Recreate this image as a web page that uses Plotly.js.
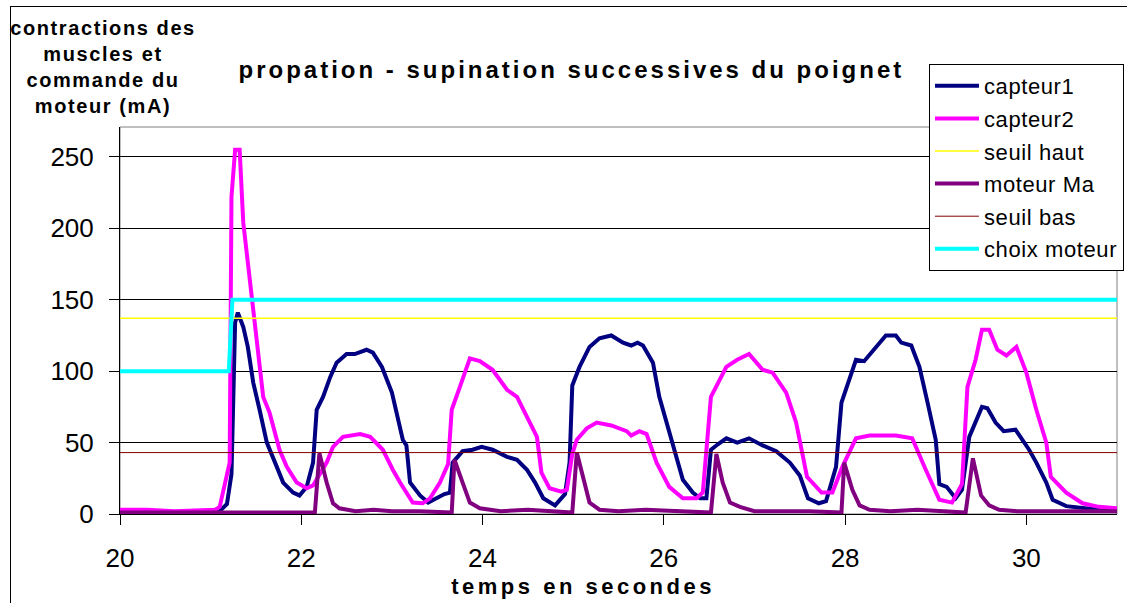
<!DOCTYPE html>
<html>
<head>
<meta charset="utf-8">
<script src="https://cdn.plot.ly/plotly-3.0.1.min.js"></script>
<style>
  html, body { margin: 0; padding: 0; background: #fff; overflow: hidden; }
  #chart { position: absolute; left: 0; top: 0; width: 1127px; height: 603px; }
  #frame { position: absolute; left: 10px; top: 6px; width: 1400px; height: 900px; border: 1px solid #000; pointer-events: none; }
  .gtitle { letter-spacing: 3px; }
  .legendtext { letter-spacing: 0.6px; }
  .annotation[data-index="0"] .annotation-text { letter-spacing: 1.6px; }
  .annotation[data-index="1"] .annotation-text { letter-spacing: 3.5px; }
</style>
</head>
<body>
<div id="chart"></div>
<div id="frame"></div>
<script>
// ---- data ----
const chartTitle = "propation - supination successives du poignet";
const yTitle = "contractions des<br>muscles et<br>commande du<br>moteur (mA)";
const xTitle = "temps en secondes";
const seriesNames = ["capteur1", "capteur2", "seuil haut", "moteur Ma", "seuil bas", "choix moteur"];

const tCapteur1 = [20.0, 20.3, 20.6, 20.9, 21.1, 21.18, 21.23, 21.27, 21.30, 21.36, 21.41, 21.47, 21.54, 21.62, 21.73, 21.80, 21.91, 21.98, 22.06, 22.13,
  22.17, 22.24, 22.32, 22.39, 22.50, 22.59, 22.72, 22.79, 22.89, 23.00, 23.12, 23.16, 23.20, 23.31, 23.40, 23.51, 23.58, 23.64, 23.67, 23.78,
  23.89, 23.99, 24.11, 24.27, 24.38, 24.49, 24.58, 24.67, 24.80, 24.91, 24.96, 24.99, 25.07, 25.18, 25.29, 25.42, 25.55, 25.64, 25.71, 25.77,
  25.88, 25.95, 26.06, 26.14, 26.21, 26.32, 26.40, 26.47, 26.52, 26.60, 26.69, 26.81, 26.94, 27.09, 27.24, 27.39, 27.50, 27.59, 27.71, 27.79,
  27.90, 27.96, 28.05, 28.12, 28.21, 28.38, 28.45, 28.56, 28.62, 28.73, 28.82, 28.91, 29.00, 29.04, 29.12, 29.22, 29.29, 29.37, 29.51, 29.57,
  29.66, 29.75, 29.88, 30.03, 30.11, 30.22, 30.29, 30.44, 30.62, 30.80, 31.0];
const vCapteur1 = [1, 1, 1, 1, 2, 7, 28, 134, 141, 131, 117, 92, 73, 50, 33, 22, 15, 13, 19, 36,
  73, 82, 96, 106, 112, 112, 115, 113, 103, 85, 52, 48, 22, 13, 8, 12, 14, 15, 36, 44,
  45, 47, 45, 40, 38, 31, 22, 11, 6, 14, 36, 90, 103, 117, 123, 125, 120, 118, 120, 118,
  106, 82, 57, 38, 24, 15, 11, 11, 45, 49, 53, 50, 53, 48, 44, 36, 27, 11, 7.5, 9,
  33, 78, 96, 108, 107, 120, 125, 125, 120, 118, 103, 78, 52, 21, 19, 11, 17, 54, 75, 74,
  64, 58, 59, 45, 36, 22, 10, 5.5, 4, 3, 2];

const tCapteur2 = [20.0, 20.3, 20.6, 20.9, 21.05, 21.10, 21.16, 21.21, 21.23, 21.27, 21.32, 21.36, 21.47, 21.58, 21.65, 21.76, 21.84, 21.95, 22.06, 22.13,
  22.28, 22.35, 22.46, 22.65, 22.76, 22.90, 23.01, 23.09, 23.23, 23.34, 23.42, 23.53, 23.62, 23.66, 23.75, 23.86, 23.97, 24.11, 24.27, 24.38,
  24.49, 24.60, 24.65, 24.74, 24.87, 24.93, 24.99, 25.04, 25.15, 25.26, 25.42, 25.59, 25.64, 25.73, 25.81, 25.92, 26.06, 26.21, 26.36, 26.43,
  26.52, 26.69, 26.81, 26.94, 27.09, 27.20, 27.35, 27.46, 27.58, 27.74, 27.86, 27.97, 28.12, 28.27, 28.56, 28.74, 28.89, 29.04, 29.18, 29.29,
  29.35, 29.44, 29.51, 29.59, 29.68, 29.78, 29.89, 30.00, 30.11, 30.22, 30.27, 30.44, 30.62, 30.80, 31.0];
const vCapteur2 = [3, 3, 2, 3, 3, 5, 22, 36, 222, 255, 255, 204, 143, 82, 71, 45, 33, 22, 18, 20,
  36, 47, 54, 56, 54, 45, 31, 22, 8, 7.5, 11, 22, 35, 73, 89, 109, 107, 101, 87, 82,
  68, 54, 29, 18, 15.7, 17, 42, 52, 60, 64, 62, 58, 55, 58, 56, 36, 19, 11, 11, 15,
  82, 103, 108, 112, 101, 99, 85, 64, 26, 15, 15, 33, 53, 55, 55, 53, 31, 10, 8, 21,
  89, 108, 129, 129, 115, 111, 117, 99, 73, 50, 26, 15, 7.5, 5, 4];

const tMoteur = [20.0, 22.15, 22.20, 22.28, 22.35, 22.42, 22.6, 22.8, 23.0, 23.3, 23.66, 23.69, 23.78, 23.86, 23.97, 24.2, 24.5, 24.8, 24.99, 25.04,
  25.11, 25.18, 25.29, 25.5, 25.8, 26.1, 26.52, 26.58, 26.65, 26.73, 26.84, 27.0, 27.3, 27.6, 27.96, 27.99, 28.08, 28.16, 28.27, 28.5,
  28.8, 29.1, 29.33, 29.41, 29.50, 29.59, 29.70, 29.9, 30.2, 30.5, 31.0];
const vMoteur = [1, 1, 42.5, 22, 7.5, 4, 2, 3, 2, 2, 1, 38, 22, 8, 4, 2, 3, 2, 1, 43,
  24, 8, 3, 2, 3, 2, 1, 42, 22, 8, 5, 2, 2, 2, 1, 36, 17, 6, 3, 2,
  3, 2, 1, 39, 13, 6, 3, 2, 2, 2, 2];

const tSeuil = [20, 31];
const vSeuilHaut = [137, 137];
const vSeuilBas = [43, 43];

const tChoix = [20, 21.2, 21.24, 31];
const vChoix = [100, 100, 150, 150];

const xTicks = [20, 22, 24, 26, 28, 30];
const yTicks = [0, 50, 100, 150, 200, 250];

// ---- styles ----
const FONT = "Liberation Sans, Arial, sans-serif";
const colors = ["#000080", "#FF00FF", "#FFFF00", "#800080", "#800000", "#00FFFF"];
const widths = [4, 4, 1.5, 4, 1, 4];
const xs = [tCapteur1, tCapteur2, tSeuil, tMoteur, tSeuil, tChoix];
const ys = [vCapteur1, vCapteur2, vSeuilHaut, vMoteur, vSeuilBas, vChoix];

const traces = seriesNames.map((n, i) => ({
  type: "scatter", mode: "lines", name: n, x: xs[i], y: ys[i],
  line: { color: colors[i], width: widths[i] },
  legendgroup: "g" + i, hoverinfo: "skip"
}));

const layout = {
  width: 1127, height: 603,
  margin: { l: 120, r: 10, t: 127, b: 89, pad: 0, autoexpand: false },
  paper_bgcolor: "#fff", plot_bgcolor: "#fff",
  font: { family: FONT, color: "#000" },
  title: { text: chartTitle, font: { family: FONT, size: 24, weight: "bold", color: "#000" },
           xref: "container", x: 0.507, xanchor: "center", yref: "container", y: 0.884, yanchor: "middle" },
  showlegend: true,
  legend: { x: 0.8114, y: 1.1628, xanchor: "left", yanchor: "top", bgcolor: "#fff",
            bordercolor: "#000", borderwidth: 1, font: { family: FONT, size: 22, color: "#000" },
            traceorder: "grouped", tracegroupgap: 1, itemwidth: 44 },
  xaxis: { range: [20, 31], tickvals: xTicks, ticktext: xTicks.map(String), showgrid: false, zeroline: false,
           showline: true, linecolor: "#000", linewidth: 1, ticks: "outside", ticklen: 10, tickcolor: "#000",
           tickfont: { family: FONT, size: 26, color: "#000" }, ticklabelstandoff: 11, fixedrange: true, automargin: false },
  yaxis: { range: [0, 271], tickvals: yTicks, ticktext: yTicks.map(String), showgrid: true, gridcolor: "#000", gridwidth: 1,
           zeroline: false, showline: true, linecolor: "#000", linewidth: 1, ticks: "outside", ticklen: 10, tickcolor: "#000",
           tickfont: { family: FONT, size: 26, color: "#000" }, ticklabelstandoff: 10, fixedrange: true, automargin: false },
  shapes: [{ type: "rect", xref: "paper", yref: "paper", x0: 0, x1: 1, y0: 0, y1: 1,
             line: { color: "#808080", width: 1 }, layer: "below" }],
  annotations: [
    { text: yTitle, xref: "paper", yref: "paper", x: -0.017, y: 1.29, xanchor: "center", yanchor: "top",
      align: "center", showarrow: false, font: { family: FONT, size: 20, weight: "bold", color: "#000" } },
    { text: xTitle, xref: "paper", yref: "paper", x: 0.464, y: -0.188, xanchor: "center", yanchor: "middle",
      showarrow: false, font: { family: FONT, size: 22, weight: "bold", color: "#000" } }
  ]
};

Plotly.newPlot("chart", traces, layout, { displayModeBar: false, staticPlot: true });
</script>
</body>
</html>
